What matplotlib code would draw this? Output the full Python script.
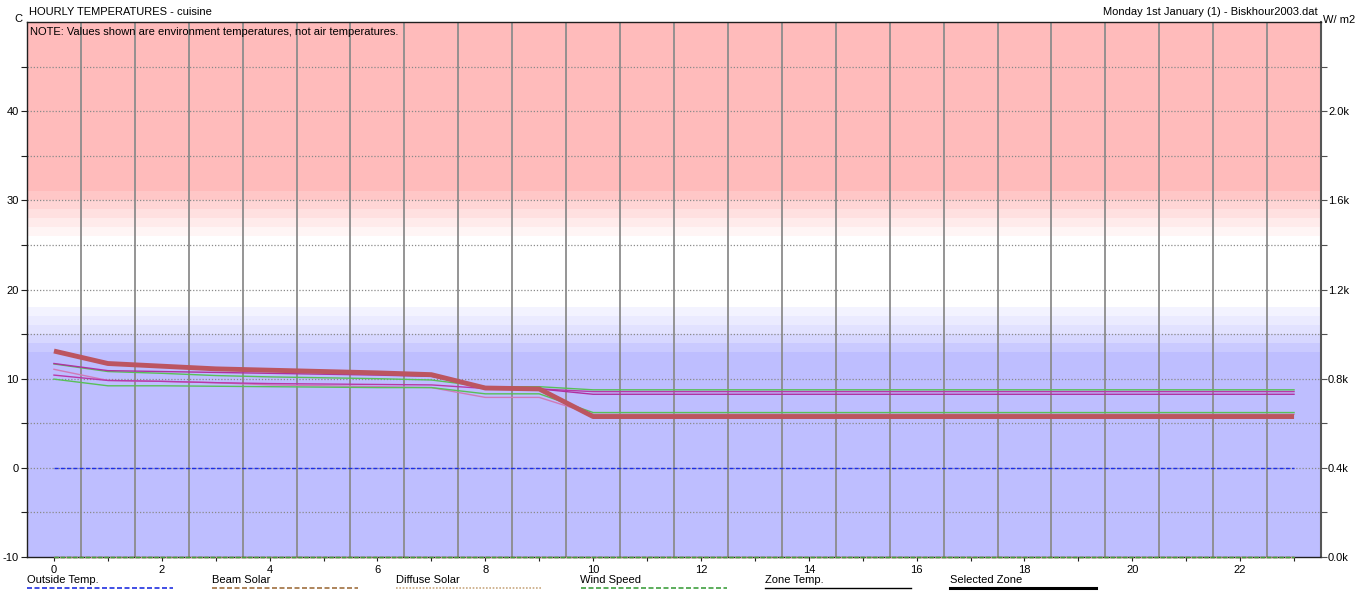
import matplotlib
matplotlib.use("Agg")
import matplotlib.pyplot as plt
from matplotlib.lines import Line2D
import numpy as np

plt.rcParams['font.family'] = ['Liberation Sans', 'DejaVu Sans']

# ---- data -------------------------------------------------------------
hours = list(range(24))

selected_zone = [13.1, 11.7, 11.4, 11.1, 10.95, 10.8, 10.65, 10.45, 8.95, 8.85] + [5.75] * 14
zone_green_a = [11.65, 10.8, 10.6, 10.35, 10.2, 10.1, 10.0, 9.85, 9.1, 9.1] + [8.75] * 14
zone_mag_a = [11.7, 10.9, 10.8, 10.7, 10.6, 10.5, 10.4, 10.25, 9.0, 8.85] + [8.25] * 14
zone_mag_b = [10.4, 9.8, 9.7, 9.55, 9.45, 9.4, 9.35, 9.3, 8.9, 8.85] + [8.55] * 14
zone_green_b = [9.95, 9.2, 9.2, 9.15, 9.1, 9.05, 9.0, 9.0, 8.3, 8.3] + [6.2] * 14
zone_pink = [11.05, 9.8, 9.7, 9.55, 9.3, 9.2, 9.1, 9.0, 7.9, 7.9] + [6.0] * 14

outside_temp = [0.0] * 24
beam_solar = [0.0] * 24
diffuse_solar = [0.0] * 24
wind_speed = [0.0] * 24

temp_ticks = [-10, 0, 10, 20, 30, 40]
solar_ticks = [0, 400, 800, 1200, 1600, 2000]
solar_labels = ["0.0k", "0.4k", "0.8k", "1.2k", "1.6k", "2.0k"]
hour_labels = list(range(0, 24, 2))

legend_names = ["Outside Temp.", "Beam Solar", "Diffuse Solar", "Wind Speed",
                "Zone Temp.", "Selected Zone"]

# comfort bands: (low, high, colour, strength)
hot = (1.0, 0.733, 0.733)
cold = (0.745, 0.745, 1.0)
bands = [
    (31, 50, hot, 1.0), (30, 31, hot, 0.82), (29, 30, hot, 0.62), (28, 29, hot, 0.45),
    (27, 28, hot, 0.3), (26, 27, hot, 0.15),
    (-10, 13, cold, 1.0), (13, 14, cold, 0.82), (14, 15, cold, 0.62), (15, 16, cold, 0.45),
    (16, 17, cold, 0.3), (17, 18, cold, 0.18),
]

# ---- figure -----------------------------------------------------------
W, H = 1372, 592
fig = plt.figure(figsize=(W / 100, H / 100), dpi=100)
L, R, T, B = 27, 1321, 22, 557
ax = fig.add_axes([L / W, 1 - B / H, (R - L) / W, (B - T) / H])
ax.set_xlim(-0.5, 23.5)
ax.set_ylim(-10, 50)

def mix(c, a):
    return tuple(1 - a * (1 - v) for v in c)

for lo, hi, c, a in bands:
    ax.axhspan(lo, hi, color=mix(c, a), lw=0, zorder=0)

# grid
for xv in np.arange(0.5, 23.0, 1.0):
    ax.axvline(xv, color='#8c8c8c', lw=1.3, zorder=1)
for yv in range(-5, 50, 5):
    ax.axhline(yv, color='#8a8a8a', lw=0.9, ls=(0, (1, 1.5)), zorder=1)

# temperatures
ax.plot(hours, outside_temp, color='#2030e0', lw=1, ls=(0, (3, 1.5)), zorder=3)
ax.plot(hours, zone_pink, color='#d07ab8', lw=1.0, zorder=4)
ax.plot(hours, zone_green_b, color='#58c058', lw=1.0, zorder=4)
ax.plot(hours, zone_mag_b, color='#b838a8', lw=1.0, zorder=4)
ax.plot(hours, zone_green_a, color='#58c058', lw=1.0, zorder=4)
ax.plot(hours, zone_mag_a, color='#b030a0', lw=1.0, zorder=4)
ax.plot(hours, selected_zone, color='#bc5560', lw=3.5, zorder=5, solid_capstyle='butt')

# series on the solar axis (drawn above the temperature axes)
ax2 = ax.twinx()
ax2.set_ylim(0, 2400)
ax2.plot(hours, beam_solar, color='#a07040', lw=1, ls=(0, (3, 1.5)), zorder=2, clip_on=False)
ax2.plot(hours, diffuse_solar, color='#c8a880', lw=1, ls=(0, (1, 1)), zorder=2, clip_on=False)
ax2.plot(hours, wind_speed, color='#40a040', lw=1, ls=(0, (3, 1.5)), zorder=2, clip_on=False)

# axes styling
fs = 8
ax.set_yticks(temp_ticks)
ax.set_yticks(range(-5, 50, 10), minor=True)
ax.set_yticklabels([str(v) for v in temp_ticks], fontsize=fs)
ax.set_xticks(hour_labels)
ax.set_xticks(range(1, 24, 2), minor=True)
ax.set_xticklabels([str(v) for v in hour_labels], fontsize=fs)
ax.tick_params(axis='both', which='both', direction='out', length=4, width=0.8,
               color='#202020', pad=2)
ax.tick_params(axis='x', which='both', length=3, pad=3)

ax2.set_yticks(solar_ticks)
ax2.set_yticks(range(200, 2400, 400), minor=True)
ax2.set_yticklabels(solar_labels, fontsize=fs)
ax2.tick_params(axis='y', which='both', direction='out', length=4, width=0.8,
                color='#505050', pad=1)

for s in ax.spines.values():
    s.set_color('#202020'); s.set_linewidth(1.0)
for s in ax2.spines.values():
    s.set_visible(False)
ax.spines['right'].set_color('#555555')
ax.spines['right'].set_linewidth(1.5)

# titles
fig.text(29 / W, 1 - 12 / H, "HOURLY TEMPERATURES - cuisine", fontsize=fs, va='center', ha='left')
fig.text(1318 / W, 1 - 12 / H, "Monday 1st January (1) - Biskhour2003.dat", fontsize=fs,
         va='center', ha='right')
fig.text(14 / W, 1 - 19 / H, "C", fontsize=fs, va='center', ha='left')
fig.text(1323 / W, 1 - 20 / H, "W/ m2", fontsize=fs, va='center', ha='left')
fig.text(30 / W, 1 - 32 / H, "NOTE: Values shown are environment temperatures, not air temperatures.",
         fontsize=fs, va='center', ha='left')

# legend row
legend_styles = [
    dict(color='#2030e0', lw=1.2, ls=(0, (3, 1.5))),
    dict(color='#a07040', lw=1.2, ls=(0, (3, 1.5))),
    dict(color='#c8a880', lw=1.2, ls=(0, (1, 1))),
    dict(color='#40a040', lw=1.2, ls=(0, (3, 1.5))),
    dict(color='black', lw=1.0, ls='-'),
    dict(color='black', lw=2.2, ls='-'),
]
x0, step, seg = 27, 184.5, 146
for i, (name, st) in enumerate(zip(legend_names, legend_styles)):
    xs = x0 + i * step
    fig.text(xs / W, 1 - 580 / H, name, fontsize=fs, va='center', ha='left')
    fig.add_artist(Line2D([xs / W, (xs + seg) / W], [1 - 588 / H, 1 - 588 / H],
                          transform=fig.transFigure, **st))

fig.savefig("out.png", dpi=100)
